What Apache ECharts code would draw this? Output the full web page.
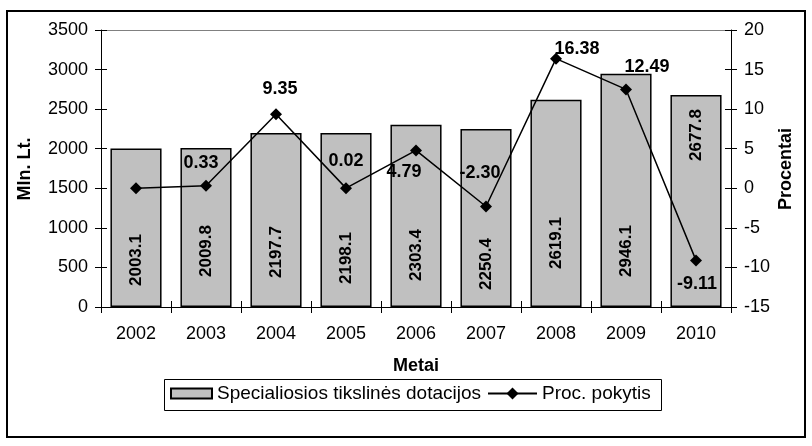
<!DOCTYPE html>
<html>
<head>
<meta charset="utf-8">
<script src="https://cdn.jsdelivr.net/npm/echarts@6/dist/echarts.min.js"></script>
<style>
  html, body { margin: 0; padding: 0; background: #fff; }
  #chart { width: 812px; height: 446px; }
</style>
</head>
<body>
<div id="chart"></div>
<script>
// Categories and values
const years = ['2002', '2003', '2004', '2005', '2006', '2007', '2008', '2009', '2010'];
const subsidies = [2003.1, 2009.8, 2197.7, 2198.1, 2303.4, 2250.4, 2619.1, 2946.1, 2677.8];
const changePct = [0, 0.33, 9.35, 0.02, 4.79, -2.30, 16.38, 12.49, -9.11];

// Axis scales
const leftAxis = { min: 0, max: 3500, step: 500 };
const rightAxis = { min: -15, max: 20, step: 5 };

// Label placement (kept apart from the values)
const barLabelLift = [21, 30, 29, 23, 26, 17, 38, 30, 146];
const pctLabelShift = [null, [-5, -23], [4, -25], [0, -27], [-12, 22], [-6, -33], [21, -10], [21, -22], [1, 24]];

const FONT = '"Liberation Sans", Arial, sans-serif';
const BAR_NAME = 'Specialiosios tikslinės dotacijos';
const LINE_NAME = 'Proc. pokytis';

const chart = echarts.init(document.getElementById('chart'), null, { renderer: 'canvas' });

const barData = subsidies.map((v, i) => ({
  value: v,
  label: { distance: barLabelLift[i] }
}));

const lineData = changePct.map((v, i) => {
  const sh = pctLabelShift[i];
  return sh ? { value: v, label: { offset: sh } } : { value: v, label: { show: false } };
});

const tickLabel = { color: '#000', fontFamily: FONT, fontSize: 18 };
const plain = v => String(v);

function catAxis(extra) {
  return Object.assign({
    type: 'category',
    data: years,
    axisLine: { onZero: false, lineStyle: { color: '#000', width: 1 } },
    axisTick: { show: false },
    axisLabel: { show: false },
    splitLine: { show: false }
  }, extra);
}

function valAxis(range, extra) {
  return Object.assign({
    type: 'value',
    min: range.min, max: range.max, interval: range.step,
    axisLine: { show: false },
    axisTick: { show: false },
    axisLabel: { show: false },
    splitLine: { show: false }
  }, extra);
}

const legendText = { color: '#000', fontFamily: FONT, fontSize: 19 };

chart.setOption({
  animation: false,
  backgroundColor: '#fff',
  textStyle: { fontFamily: FONT },
  grid: { left: 101, right: 81, top: 30, bottom: 139 },
  legend: [
    {
      left: 170, top: 384, padding: 0,
      itemWidth: 41, itemHeight: 10, itemGap: 0,
      textStyle: legendText,
      data: [{ name: BAR_NAME, icon: 'rect' }]
    },
    {
      left: 487, top: 384, padding: 0,
      itemWidth: 49, itemHeight: 15, itemGap: 0,
      textStyle: legendText,
      data: [{ name: LINE_NAME }]
    }
  ],
  xAxis: [
    catAxis({
      position: 'bottom',
      axisTick: { show: true, length: 6, lineStyle: { color: '#000' } },
      axisLabel: Object.assign({ show: true, margin: 18 }, tickLabel)
    }),
    catAxis({
      position: 'top',
      axisLine: { onZero: false, lineStyle: { color: '#808080', width: 1 } }
    }),
    catAxis({
      position: 'bottom',
      axisLine: { show: false, onZero: false },
      axisTick: { show: true, inside: true, length: 6, lineStyle: { color: '#000' } }
    })
  ],
  yAxis: [
    valAxis(leftAxis, {
      position: 'left',
      axisLine: { show: true, lineStyle: { color: '#000', width: 1 } },
      axisTick: { show: true, length: 6, lineStyle: { color: '#000' } },
      axisLabel: Object.assign({ show: true, margin: 13, formatter: plain }, tickLabel)
    }),
    valAxis(rightAxis, {
      position: 'right',
      axisLine: { show: true, lineStyle: { color: '#000', width: 1 } },
      axisTick: { show: true, length: 6, lineStyle: { color: '#000' } },
      axisLabel: Object.assign({ show: true, margin: 13, formatter: plain }, tickLabel)
    }),
    valAxis(leftAxis, {
      position: 'left',
      axisTick: { show: true, inside: true, length: 6, lineStyle: { color: '#000' } }
    }),
    valAxis(rightAxis, {
      position: 'right',
      axisTick: { show: true, inside: true, length: 6, lineStyle: { color: '#000' } }
    })
  ],
  series: [
    {
      name: BAR_NAME,
      type: 'bar',
      xAxisIndex: 0,
      yAxisIndex: 0,
      barCategoryGap: '27%',
      itemStyle: { color: '#c0c0c0', borderColor: '#000', borderWidth: 1.5 },
      label: {
        show: true,
        position: 'insideBottom',
        rotate: 90,
        align: 'left',
        verticalAlign: 'middle',
        color: '#000',
        fontFamily: FONT,
        fontWeight: 'bold',
        fontSize: 17,
        formatter: p => p.value.toFixed(1)
      },
      data: barData,
      z: 2
    },
    {
      name: LINE_NAME,
      type: 'line',
      xAxisIndex: 0,
      yAxisIndex: 1,
      symbol: 'diamond',
      symbolSize: 12,
      lineStyle: { color: '#000', width: 1.5 },
      itemStyle: { color: '#000' },
      label: {
        show: true,
        position: 'inside',
        align: 'center',
        verticalAlign: 'middle',
        color: '#000',
        fontFamily: FONT,
        fontWeight: 'bold',
        fontSize: 18,
        formatter: p => p.value.toFixed(2)
      },
      data: lineData,
      z: 5
    }
  ],
  graphic: [
    {
      // outer frame
      type: 'rect',
      shape: { x: 7, y: 11, width: 798, height: 426 },
      style: { fill: null, stroke: '#000', lineWidth: 2 },
      silent: true,
      z: 100
    },
    {
      // legend frame
      type: 'rect',
      shape: { x: 164.5, y: 379.5, width: 497, height: 31 },
      style: { fill: null, stroke: '#000', lineWidth: 1 },
      silent: true,
      z: 100
    },
    {
      type: 'text',
      x: 25, y: 169,
      rotation: Math.PI / 2,
      style: {
        text: 'Mln. Lt.',
        fill: '#000',
        font: 'bold 18px ' + FONT,
        align: 'center',
        verticalAlign: 'middle'
      }
    },
    {
      type: 'text',
      x: 786, y: 169,
      rotation: Math.PI / 2,
      style: {
        text: 'Procentai',
        fill: '#000',
        font: 'bold 18px ' + FONT,
        align: 'center',
        verticalAlign: 'middle'
      }
    },
    {
      type: 'text',
      x: 416, y: 366,
      style: {
        text: 'Metai',
        fill: '#000',
        font: 'bold 18px ' + FONT,
        align: 'center',
        verticalAlign: 'middle'
      }
    }
  ]
});
</script>
</body>
</html>
